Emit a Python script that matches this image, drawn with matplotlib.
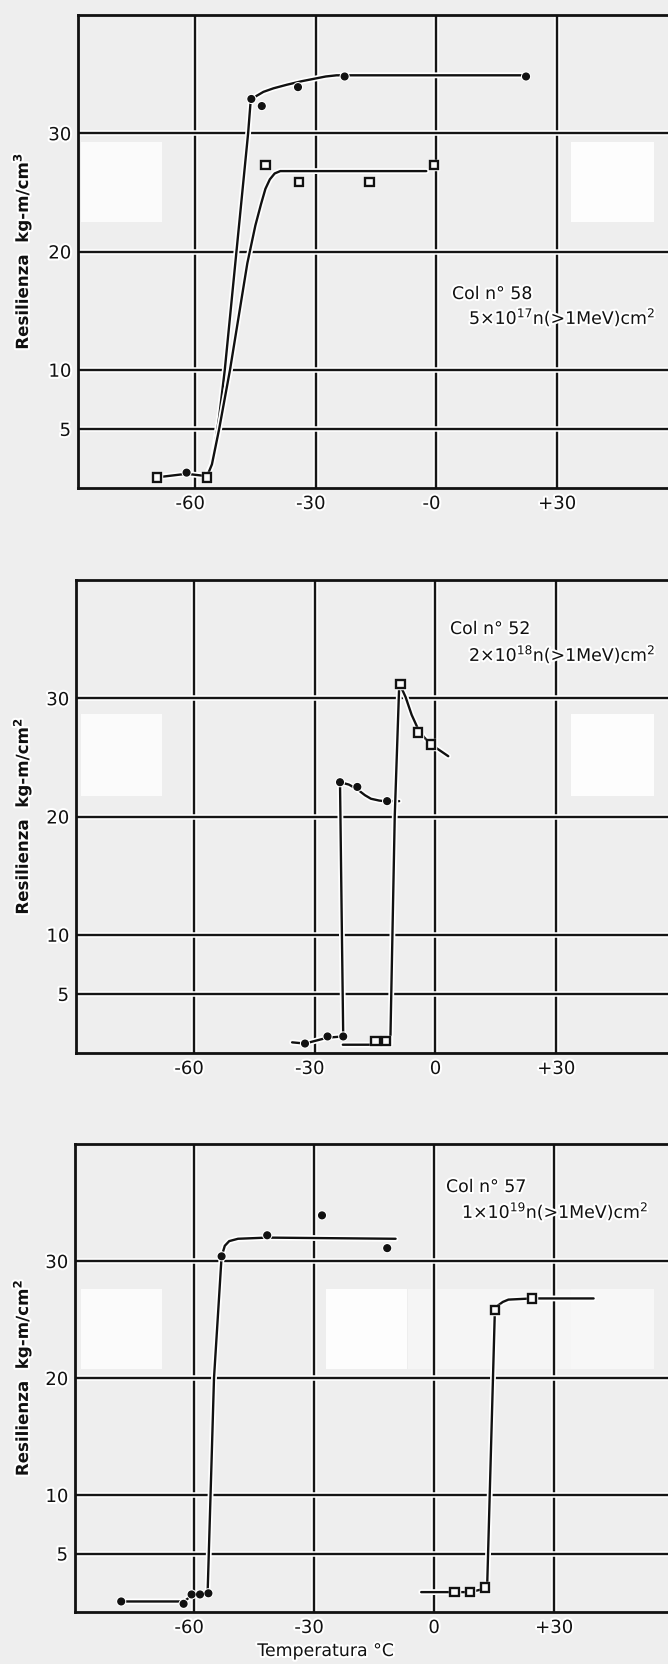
import matplotlib
matplotlib.use("Agg")
import matplotlib.pyplot as plt
import matplotlib.patheffects as pe
from matplotlib.patches import Rectangle
from matplotlib.transforms import ScaledTranslation

plt.rcParams["font.family"] = ["DejaVu Sans"]
plt.rcParams["mathtext.default"] = "regular"

# ---- shared axes data ----
grid_x = [-60, -30, 0, 30]
grid_y = [5, 10, 20, 30]
ytick_labels = ["5", "10", "20", "30"]
xtick_labels_58 = ["-60", "-30", "-0", "+30"]
xtick_labels = ["-60", "-30", "0", "+30"]

# ---- Col n° 58 : 5x10^17 n/cm2 ----
c58_dot_x = [-62.1, -46.0, -43.4, -34.4, -22.8, 22.3]
c58_dot_y = [1.3, 32.9, 32.3, 33.9, 34.8, 34.8]
c58_sq_x = [-69.5, -57.1, -42.5, -34.2, -16.6, -0.6]
c58_sq_y = [0.9, 0.9, 27.3, 25.9, 25.9, 27.3]
c58_dot_curve_x = [-57.0, -55.8, -54.0, -52.6, -49.7, -46.8, -46.2, -45.0, -43.0, -40.5, -37.2, -33.5, -30.5, -27.5, -24.8, 22.3]
c58_dot_curve_y = [1.2, 2.0, 6.0, 10.0, 20.0, 30.0, 32.6, 33.1, 33.5, 33.8, 34.1, 34.4, 34.6, 34.8, 34.9, 34.9]
c58_sq_curve_x = [-69.5, -62.1, -57.0, -55.8, -54.0, -51.3, -47.0, -45.0, -43.6, -42.5, -41.4, -40.2, -38.8, -2.5]
c58_sq_curve_y = [0.9, 1.2, 1.0, 2.0, 5.0, 10.0, 19.0, 22.2, 24.0, 25.3, 26.1, 26.6, 26.8, 26.8]

# ---- Col n° 52 : 2x10^18 n/cm2 ----
c52_dot_x = [-32.4, -26.8, -22.9, -23.7, -19.4, -12.0]
c52_dot_y = [0.8, 1.4, 1.4, 22.9, 22.5, 21.3]
c52_sq_x = [-14.9, -12.2, -8.7, -4.3, -1.1]
c52_sq_y = [1.0, 1.0, 31.2, 27.1, 26.1]
c52_dot_curve_x = [-35.6, -32.4, -26.8, -22.9, -23.3, -23.7, -21.5, -19.4, -17.5, -16.0, -14.0, -12.8, -9.0]
c52_dot_curve_y = [0.9, 0.8, 1.3, 1.4, 12.0, 22.9, 22.7, 22.3, 21.8, 21.5, 21.35, 21.3, 21.3]
c52_sq_curve_x = [-23.0, -14.9, -12.2, -11.2, -10.1, -9.0, -8.2, -7.4, -5.9, -4.3, -2.8, -1.1, 3.2]
c52_sq_curve_y = [0.7, 0.7, 0.7, 0.8, 20.0, 31.0, 30.7, 30.1, 28.6, 27.4, 26.7, 26.1, 25.1]

# ---- Col n° 57 : 1x10^19 n/cm2 ----
c57_dot_x = [-78.2, -62.6, -60.6, -58.5, -56.4, -53.1, -41.7, -28.0, -11.7]
c57_dot_y = [0.9, 0.7, 1.5, 1.5, 1.6, 30.4, 32.2, 33.9, 31.1]
c57_sq_x = [5.1, 9.0, 12.8, 15.2, 24.5]
c57_sq_y = [1.7, 1.7, 2.1, 25.8, 26.8]
c57_dot_curve_x = [-78.2, -62.5, -60.6, -58.5, -56.6, -55.6, -55.0, -53.9, -53.1, -52.3, -51.2, -49.0, -41.7, -9.6]
c57_dot_curve_y = [0.9, 0.9, 1.4, 1.5, 1.6, 13.0, 20.0, 26.0, 30.4, 31.3, 31.7, 31.9, 32.0, 31.9]
c57_sq_curve_x = [-3.2, 5.1, 9.0, 12.8, 13.3, 15.2, 16.0, 17.2, 18.6, 24.5, 39.9]
c57_sq_curve_y = [1.7, 1.7, 1.7, 2.0, 2.3, 25.6, 26.2, 26.5, 26.7, 26.8, 26.8]

W, H = 668, 1665
BG = "#eeeeee"
fig = plt.figure(figsize=(W / 100, H / 100), dpi=100, facecolor=BG)

def px_rect(x0, y0, x1, y1):
    return [x0 / W, 1 - y1 / H, (x1 - x0) / W, (y1 - y0) / H]

# lighter paper blotches
for (x0, y0, x1, y1, c) in [
    (81, 143, 162, 223, "#fbfbfb"), (571, 143, 654, 223, "#fdfdfd"),
    (81, 715, 162, 797, "#fbfbfb"), (571, 715, 654, 797, "#fdfdfd"),
    (81, 1290, 162, 1370, "#fbfbfb"), (326, 1290, 407, 1370, "#fdfdfd"),
    (408, 1290, 571, 1370, "#f5f5f5"), (571, 1290, 654, 1370, "#f7f7f7"),
]:
    r = Rectangle((x0 / W, 1 - y1 / H), (x1 - x0) / W, (y1 - y0) / H,
                  transform=fig.transFigure, facecolor=c, edgecolor="none", zorder=-1)
    fig.add_artist(r)

halo = lambda w: [pe.Stroke(linewidth=w, foreground="white"), pe.Normal()]

panels = [
    dict(px=(78, 16, 668, 489), xlim=(-89.1, 57.6), xlabels=xtick_labels_58,
         ylabel="Resilienza  kg-m/cm$^3$",
         series=[(c58_dot_x, c58_dot_y, c58_dot_curve_x, c58_dot_curve_y, "o"),
                 (c58_sq_x, c58_sq_y, c58_sq_curve_x, c58_sq_curve_y, "s")],
         note=("Col n° 58", "5×10$^{17}$n(>1MeV)cm$^2$"), note_px=((452, 295), (469, 318))),
    dict(px=(76, 581, 668, 1054), xlim=(-89.3, 57.8), xlabels=xtick_labels,
         ylabel="Resilienza  kg-m/cm$^2$",
         series=[(c52_dot_x, c52_dot_y, c52_dot_curve_x, c52_dot_curve_y, "o"),
                 (c52_sq_x, c52_sq_y, c52_sq_curve_x, c52_sq_curve_y, "s")],
         note=("Col n° 52", "2×10$^{18}$n(>1MeV)cm$^2$"), note_px=((450, 630), (469, 655))),
    dict(px=(75, 1145, 668, 1613), xlim=(-89.75, 58.5), xlabels=xtick_labels,
         ylabel="Resilienza  kg-m/cm$^2$",
         series=[(c57_dot_x, c57_dot_y, c57_dot_curve_x, c57_dot_curve_y, "o"),
                 (c57_sq_x, c57_sq_y, c57_sq_curve_x, c57_sq_curve_y, "s")],
         note=("Col n° 57", "1×10$^{19}$n(>1MeV)cm$^2$"), note_px=((446, 1188), (462, 1212))),
]

for i, p in enumerate(panels):
    ax = fig.add_axes(px_rect(*p["px"]))
    ax.set_facecolor("none")
    ax.set_xlim(*p["xlim"])
    ax.set_ylim(0, 40)
    for s in ["left", "top", "bottom"]:
        ax.spines[s].set_linewidth(2.0)
        ax.spines[s].set_color("#111111")
    ax.spines["right"].set_visible(False)
    for gx in grid_x:
        ax.axvline(gx, color="#151515", lw=1.7, zorder=1, path_effects=halo(4.0))
    for gy in grid_y:
        ax.axhline(gy, color="#151515", lw=1.7, zorder=1, path_effects=halo(4.0))

    for (mx, my, cx, cy, m) in p["series"]:
        ax.plot(cx, cy, color="#111111", lw=1.7, zorder=3, path_effects=halo(4.2),
                solid_joinstyle="round", solid_capstyle="round")
        if m == "o":
            ax.plot(mx, my, ls="none", marker="o", ms=4.8, mfc="#111111", mec="#111111",
                    zorder=4, path_effects=halo(2.5))
        else:
            ax.plot(mx, my, ls="none", marker="s", ms=6.0, mfc="#fafafa", mec="#111111",
                    mew=1.7, zorder=4, path_effects=halo(2.5))

    ax.set_xticks(grid_x)
    ax.set_xticklabels(p["xlabels"])
    ax.set_yticks(grid_y)
    ax.set_yticklabels(ytick_labels)
    ax.tick_params(length=0, labelsize=13, colors="#111111", pad=5)
    off = ScaledTranslation(-5 / 100, 0, fig.dpi_scale_trans)
    for lab in ax.get_xticklabels():
        if lab.get_text().startswith("-"):
            lab.set_transform(lab.get_transform() + off)
        lab.set_path_effects(halo(3))
    for lab in ax.get_yticklabels():
        lab.set_path_effects(halo(3))

    x0, y0, x1, y1 = p["px"]
    fig.text(22 / W, 1 - ((y0 + y1) / 2) / H, p["ylabel"], rotation=90, ha="center",
             va="center", fontsize=12, color="#111111", fontweight="semibold",
             path_effects=halo(3))
    (ax1, ay1), (ax2, ay2) = p["note_px"]
    fig.text(ax1 / W, 1 - ay1 / H, p["note"][0], ha="left", va="center", fontsize=12.5,
             color="#111111", path_effects=halo(3))
    fig.text(ax2 / W, 1 - ay2 / H, p["note"][1], ha="left", va="center", fontsize=12.5,
             color="#111111", path_effects=halo(3))

fig.text(326 / W, 1 - 1652 / H, "Temperatura °C", ha="center", va="center",
         fontsize=12.5, color="#111111", path_effects=halo(3))

fig.savefig("out.png", dpi=100, facecolor=BG)
